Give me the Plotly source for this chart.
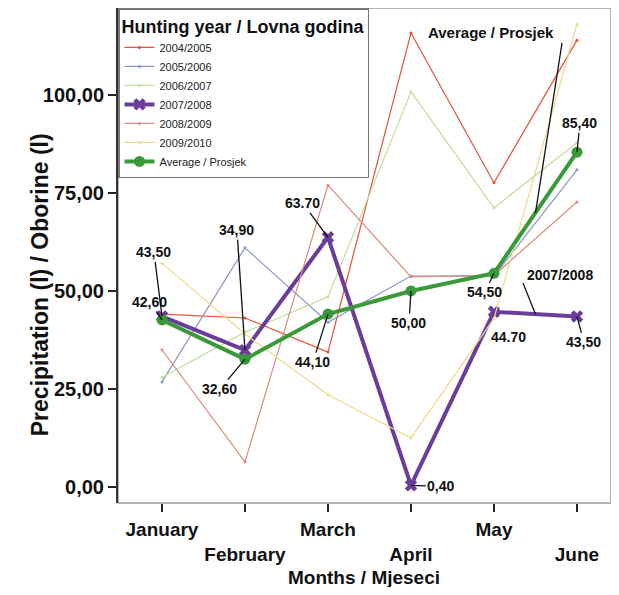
import plotly.graph_objects as go

months = ["January", "February", "March", "April", "May", "June"]
tick_labels = ["January", "<br>February", "March", "<br>April", "May", "<br>June"]

years = ["2004/2005", "2005/2006", "2006/2007", "2007/2008", "2008/2009", "2009/2010"]
y0405 = [44.1, 43.1, 34.4, 115.8, 77.6, 114.0]
y0506 = [26.8, 61.0, 42.0, 53.8, 53.8, 80.9]
y0607 = [28.0, 39.5, 48.5, 100.8, 71.2, 87.8]
y0708 = [43.5, 34.9, 63.7, 0.4, 44.7, 43.5]
y0809 = [35.0, 6.4, 77.0, 53.6, 54.0, 72.7]
y0910 = [57.1, 39.0, 23.5, 12.5, 43.0, 118.0]
average = [42.6, 32.6, 44.1, 50.0, 54.5, 85.4]

FONT = "Liberation Sans"

fig = go.Figure()

thin = [
    (years[0], y0405, "#e8503a"),
    (years[1], y0506, "#8c96c6"),
    (years[2], y0607, "#c2dea0"),
]
for name, vals, col in thin:
    fig.add_trace(go.Scatter(x=months, y=vals, name=name, mode="lines+markers",
                             line=dict(color=col, width=1.2),
                             marker=dict(size=3, color=col)))

fig.add_trace(go.Scatter(x=months, y=y0708, name=years[3], mode="lines+markers",
                         line=dict(color="#6a3d9a", width=4),
                         marker=dict(symbol="x", size=11, color="#6a3d9a")))

for name, vals, col in [(years[4], y0809, "#d98c80"), (years[5], y0910, "#f0d98a")]:
    fig.add_trace(go.Scatter(x=months, y=vals, name=name, mode="lines+markers",
                             line=dict(color=col, width=1.2),
                             marker=dict(size=3, color=col)))

fig.add_trace(go.Scatter(x=months, y=average, name="Average / Prosjek", mode="lines+markers",
                         line=dict(color="#3a9a3a", width=4),
                         marker=dict(symbol="circle", size=11, color="#3a9a3a")))

# value labels with leader lines: (x, y, text, ax, ay)
labels = [
    (0, y0708[0], "43,50", -8, -64),
    (0, average[0], "42,60", -12, -18),
    (1, y0708[1], "34,90", -8, -120),
    (1, average[1], "32,60", -25, 30),
    (2, y0708[2], "63.70", -25, -34),
    (2, average[2], "44,10", -15, 48),
    (3, average[3], "50,00", -2, 32),
    (4, average[4], "54,50", -9, 19),
    (5, average[5], "85,40", 3, -29),
    (5, y0708[5], "43,50", 7, 26),
    (3, y0708[3], "0,40", 30, 1),
]
for xi, yv, txt, ax, ay in labels:
    fig.add_annotation(x=xi, y=yv, text=txt, showarrow=True, arrowhead=0,
                       arrowwidth=1.3, arrowcolor="#111", ax=ax, ay=ay, standoff=0,
                       font=dict(family=FONT, size=14, color="#111", weight="bold"))

fig.add_annotation(x=4, y=y0708[4], text="44.70", showarrow=False, xshift=15, yshift=-25,
                   font=dict(family=FONT, size=14, color="#111", weight="bold"))

# series labels
fig.add_annotation(x=3.96, y=116, text="Average / Prosjek", showarrow=False,
                   font=dict(family=FONT, size=15, color="#111", weight="bold"))
fig.add_shape(type="line", x0=4.5, y0=(average[4] + average[5]) / 2, x1=4.82, y1=113.3,
              line=dict(color="#111", width=1.3))
fig.add_annotation(x=4.8, y=54.1, text="2007/2008", showarrow=False,
                   font=dict(family=FONT, size=14, color="#111", weight="bold"))
fig.add_shape(type="line", x0=4.5, y0=(y0708[4] + y0708[5]) / 2, x1=4.35, y1=52,
              line=dict(color="#111", width=1.3))

# axis titles
fig.add_annotation(xref="paper", yref="paper", x=0.499, y=-0.151, text="Months / Mjeseci",
                   showarrow=False, yanchor="middle",
                   font=dict(family=FONT, size=19, color="#111", weight="bold"))
fig.add_annotation(xref="paper", yref="paper", x=-0.1886, y=0.44,
                   text="Precipitation (l) / Oborine (l)", textangle=-90, showarrow=False,
                   font=dict(family=FONT, size=23, color="#111", weight="bold"))

# frame
fig.add_shape(type="rect", xref="paper", yref="paper", x0=0, y0=0, x1=1, y1=1,
              line=dict(color="#9a9a9a", width=1.5), layer="below")

# page body keeps an 8px margin, so the figure is 16px smaller than the window
fig.update_layout(
    width=603, height=579,
    margin=dict(l=110, r=0, t=0, b=84),
    paper_bgcolor="white", plot_bgcolor="white",
    separators=",.",
    font=dict(family=FONT, color="#111"),
    legend=dict(
        x=0, y=1, xanchor="left", yanchor="top",
        bgcolor="white", bordercolor="#777", borderwidth=1.5,
        font=dict(family=FONT, size=11, color="#222"),
        title=dict(text="Hunting year / Lovna godina",
                   font=dict(family=FONT, size=18, color="#111", weight="bold")),
    ),
    xaxis=dict(
        type="category", categoryarray=months, range=[-0.53, 5.41],
        tickvals=months, ticktext=tick_labels, tickangle=0, automargin=False,
        showgrid=False, zeroline=False, showline=False,
        ticks="outside", ticklen=8, tickwidth=2, tickcolor="#222",
        ticklabelstandoff=1,
        tickfont=dict(family=FONT, size=19, color="#111", weight="bold"),
    ),
    yaxis=dict(
        range=[-4.1, 122.2], tickvals=[0, 25, 50, 75, 100], tickformat=".2f",
        automargin=False,
        showgrid=False, zeroline=False,
        showline=True, linecolor="#333", linewidth=2,
        ticks="outside", ticklen=8, tickwidth=2, tickcolor="#222",
        tickfont=dict(family=FONT, size=20, color="#111", weight="bold"),
    ),
)

fig.write_html("out.html")
